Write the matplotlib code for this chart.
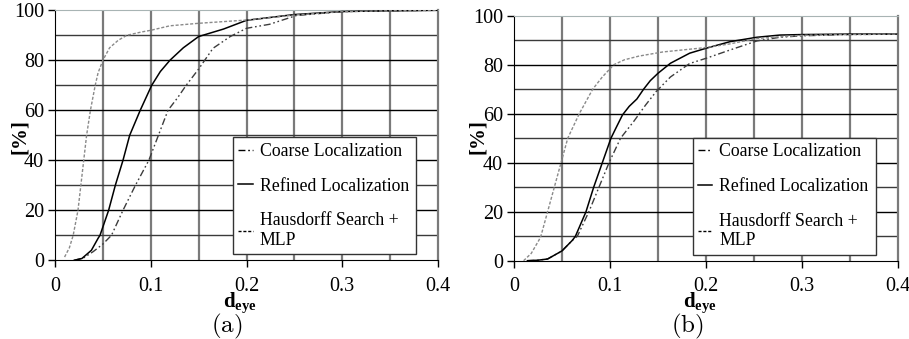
import numpy as np
import matplotlib
matplotlib.use("Agg")
import matplotlib.pyplot as plt

plt.rcParams["font.family"] = ["Liberation Serif", "DejaVu Serif"]
plt.rcParams["mathtext.fontset"] = "custom"
plt.rcParams["mathtext.rm"] = "Liberation Serif"
plt.rcParams["mathtext.bf"] = "Liberation Serif:bold"

# ---- data (a) ----
haus_a_x = [0.010, 0.015, 0.019, 0.024, 0.027, 0.030, 0.033, 0.037, 0.042, 0.045, 0.050,
            0.057, 0.066, 0.075, 0.090, 0.100, 0.120, 0.150, 0.200, 0.250, 0.300, 0.350, 0.400]
haus_a_y = [1.3, 5, 10, 20, 30, 40, 50, 60, 70, 75, 80,
            85, 88, 90, 91.3, 92, 93.8, 94.8, 96.1, 98.1, 99.5, 99.8, 100]
ref_a_x = [0.020, 0.028, 0.038, 0.045, 0.047, 0.056, 0.063, 0.071, 0.078, 0.089, 0.101,
           0.110, 0.120, 0.134, 0.150, 0.176, 0.200, 0.250, 0.300, 0.350, 0.400]
ref_a_y = [0, 0.7, 4, 8.8, 10, 20, 30, 40, 50, 60, 70,
           75.5, 80, 85, 89.5, 92.5, 96, 98.3, 99.5, 99.8, 100]
coarse_a_x = [0.020, 0.030, 0.040, 0.050, 0.059, 0.071, 0.084, 0.098, 0.108, 0.118, 0.128,
              0.137, 0.150, 0.165, 0.183, 0.200, 0.224, 0.252, 0.300, 0.350, 0.400]
coarse_a_y = [0, 1, 3.5, 6.5, 10, 20, 30, 40, 50, 60, 65,
              70, 76.5, 84.8, 89.5, 92.8, 94.4, 97.9, 99.5, 99.8, 100]

# ---- data (b) ----
haus_b_x = [0.010, 0.018, 0.026, 0.028, 0.035, 0.042, 0.049, 0.056, 0.068, 0.082, 0.092, 0.104,
            0.115, 0.130, 0.155, 0.180, 0.200, 0.225, 0.253, 0.277, 0.300, 0.350, 0.400]
haus_b_y = [0, 3, 8.4, 10, 20, 30, 40, 50, 60, 70, 75, 80,
            82, 83.5, 85.2, 86.2, 87, 88.5, 90.7, 91.4, 92, 92.3, 92.5]
ref_b_x = [0.014, 0.025, 0.035, 0.050, 0.061, 0.064, 0.075, 0.083, 0.092, 0.101, 0.106, 0.113,
           0.120, 0.128, 0.135, 0.142, 0.150, 0.163, 0.183, 0.200, 0.225, 0.253, 0.277, 0.300,
           0.350, 0.400]
ref_b_y = [0, 0.2, 0.7, 4, 8.4, 10, 20, 30, 40, 50, 54, 59.5,
           63, 66, 70, 73.5, 76.5, 80.6, 84.7, 86.7, 89.4, 91.2, 92.1, 92.3,
           92.5, 92.5]
coarse_b_x = [0.014, 0.025, 0.035, 0.050, 0.061, 0.066, 0.078, 0.0885, 0.099, 0.111, 0.125,
              0.137, 0.148, 0.163, 0.183, 0.200, 0.225, 0.253, 0.277, 0.300, 0.350, 0.400]
coarse_b_y = [0, 0.2, 0.7, 4, 8.4, 10, 20, 30, 40, 50, 57,
              63.5, 69, 75, 80.5, 82.6, 86, 89.7, 91.2, 91.8, 92.3, 92.5]

labels = ["Coarse Localization", "Refined Localization", "Hausdorff Search +\nMLP"]
x_ticks = [0, 0.1, 0.2, 0.3, 0.4]
x_tick_labels = ["0", "0.1", "0.2", "0.3", "0.4"]
y_ticks = [0, 20, 40, 60, 80, 100]

fig = plt.figure(figsize=(9.09, 3.39), dpi=100)
W, H = 909, 339


def panel(rect, data, letter, lab_x, ylab_x):
    ax = fig.add_axes(rect)
    (cx, cy), (rx, ry), (hx, hy) = data
    # grid
    for v in np.arange(0.05, 0.40, 0.05):
        ax.axvline(v, color="#7a7a7a", lw=1.6, zorder=1)
    for h in range(10, 100, 10):
        ax.axhline(h, color="black" if h % 20 == 0 else "#3a3a3a", lw=1.0, zorder=1)
    ax.plot(cx, cy, color="#3c3c3c", lw=1.0, dashes=(5, 2, 1.2, 2, 1.2, 2), label=labels[0], zorder=3)
    ax.plot(rx, ry, color="black", lw=1.1, label=labels[1], zorder=3)
    ax.plot(hx, hy, color="#8a8a8a", lw=1.0, dashes=(2.2, 1.3), label=labels[2], zorder=3)
    ax.set_xlim(0, 0.4)
    ax.set_ylim(0, 100)
    ax.set_xticks(x_ticks)
    ax.set_xticklabels(x_tick_labels)
    ax.set_yticks(y_ticks)
    ax.tick_params(axis="both", direction="out", length=5, width=1, labelsize=14.5, color="black")
    ax.tick_params(axis="x", pad=7)
    ax.tick_params(axis="y", pad=3)
    ax.spines["left"].set_color("black")
    ax.spines["bottom"].set_color("black")
    ax.spines["top"].set_color("#a8b4b4")
    ax.spines["right"].set_color("#7a7a7a")
    ax.spines["right"].set_linewidth(1.6)
    leg = ax.legend(loc="lower left", bbox_to_anchor=(0.465, 0.024, 0.478, 0.45), mode="expand",
                    fontsize=12.8, handlelength=0.8, handletextpad=0.4, labelspacing=1.0,
                    borderpad=0.3, fancybox=False, framealpha=1, edgecolor="#333333",
                    borderaxespad=0)
    leg.get_frame().set_linewidth(1.0)
    for line in leg.get_lines():
        line.set_color("black")
    fig.text(lab_x / W, 1 - 303 / H, r"$\mathbf{d_{eye}}$", ha="center", va="center", fontsize=15)
    fig.text((lab_x - 13) / W, 1 - 326 / H, "$\\mathrm{(" + letter + ")}$", ha="center", va="center",
             fontsize=18, math_fontfamily="cm")
    fig.text(ylab_x / W, 1 - 137 / H, "[%]", rotation=90, ha="center", va="center",
             fontsize=15, fontweight="bold")
    return ax


panel([55 / W, 1 - 260.3 / H, 383 / W, 250 / H],
      [(coarse_a_x, coarse_a_y), (ref_a_x, ref_a_y), (haus_a_x, haus_a_y)], "a", 240, 20)
panel([514 / W, 1 - 260.7 / H, 384 / W, 245 / H],
      [(coarse_b_x, coarse_b_y), (ref_b_x, ref_b_y), (haus_b_x, haus_b_y)], "b", 700, 478)

fig.savefig("out.png", dpi=100)
